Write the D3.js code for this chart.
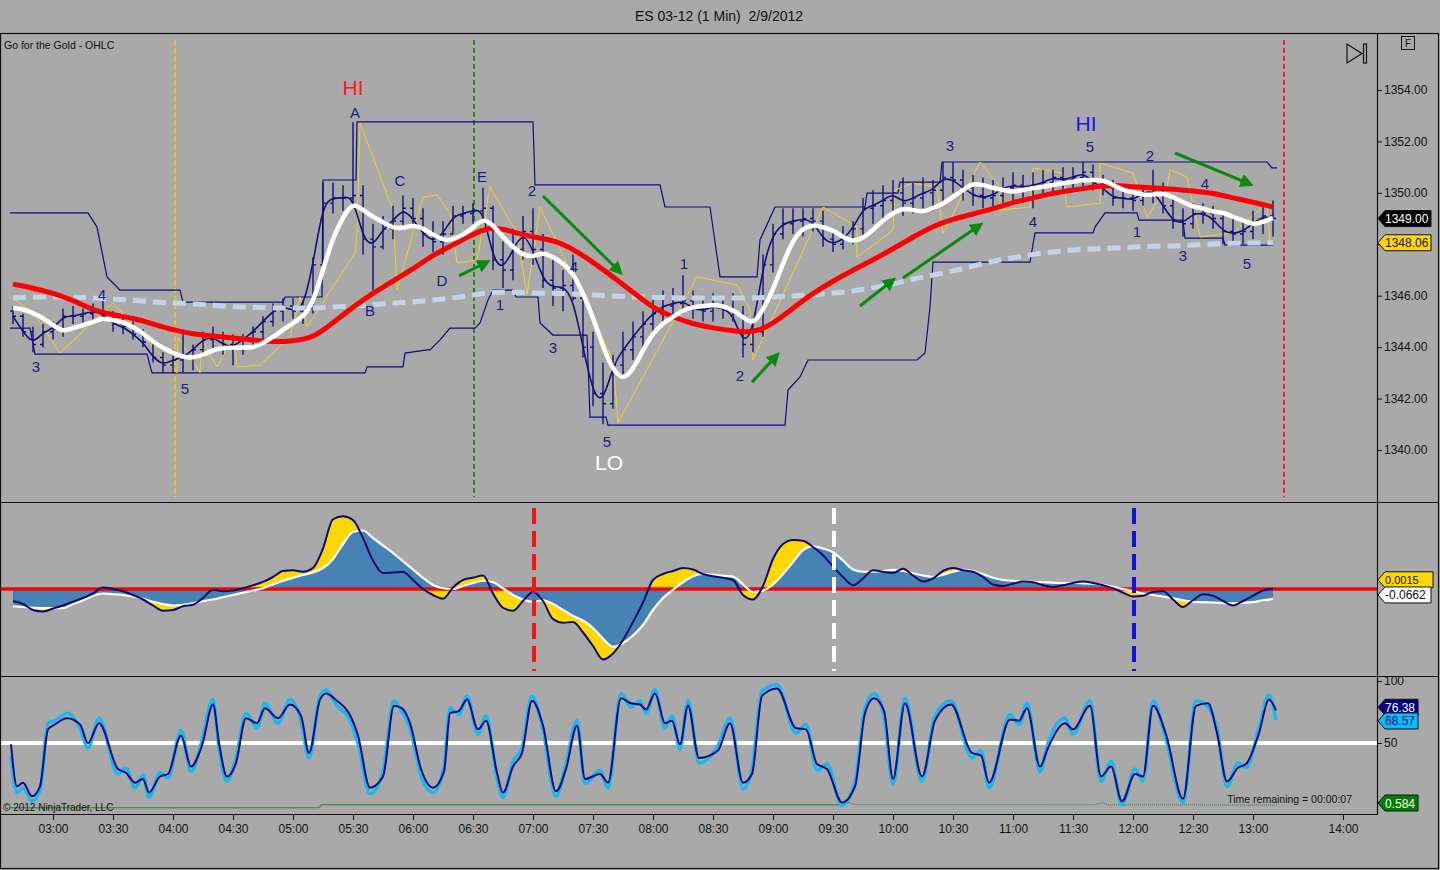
<!DOCTYPE html>
<html>
<head>
<meta charset="utf-8">
<title>ES 03-12 (1 Min) 2/9/2012</title>
<script src="https://cdn.jsdelivr.net/npm/d3@7"></script>
<style>
  body { margin: 0; background: #a9a9a9; }
  svg { display: block; }
  text { font-family: "Liberation Sans", Arial, sans-serif; }
</style>
</head>
<body>
<svg id="chart" width="1440" height="870"></svg>
<script>
// ---- data (times are minutes after midnight) ----
const barStart = 160, barStep = 5;

const highs = [
  1345.6, 1345.3, 1344.8, 1344.9, 1345.0, 1345.5, 1345.6, 1345.5, 1345.7, 1345.8,
  1345.4, 1345.1, 1345.0, 1344.7, 1344.3, 1343.8, 1343.9, 1344.5, 1344.1, 1344.6,
  1344.8, 1344.6, 1344.5, 1344.5, 1344.8, 1345.2, 1345.7, 1345.9, 1345.9, 1345.8,
  1347.5, 1350.4, 1350.4, 1350.3, 1352.75, 1350.3, 1348.8, 1349.1, 1349.5, 1349.9,
  1349.8, 1349.4, 1348.9, 1348.9, 1349.5, 1349.5, 1349.6, 1350.2, 1349.5, 1348.1,
  1348.6, 1349.1, 1349.4, 1348.4, 1347.5, 1347.0, 1347.6, 1346.1, 1344.6, 1343.4,
  1343.7, 1344.6, 1345.0, 1345.4, 1345.9, 1346.2, 1346.3, 1346.8, 1346.2, 1346.0,
  1346.1, 1346.0, 1346.1, 1345.6, 1345.0, 1347.6, 1348.8, 1349.4, 1349.4, 1349.4,
  1349.4, 1349.3, 1348.6, 1348.7, 1348.9, 1349.8, 1350.1, 1350.3, 1350.5, 1350.6,
  1350.4, 1350.6, 1350.5, 1351.2, 1351.2, 1350.9, 1350.7, 1350.6, 1350.5, 1350.6,
  1350.8, 1350.7, 1350.8, 1350.9, 1350.9, 1351.0, 1351.0, 1351.2, 1351.1, 1350.7,
  1350.5, 1350.2, 1350.1, 1350.3, 1350.9, 1350.4, 1349.8, 1349.4, 1349.6, 1349.6,
  1349.5, 1349.3, 1349.0, 1349.0, 1349.3, 1349.6, 1349.7
];
const lows = [
  1344.9, 1344.4, 1343.8, 1344.0, 1344.3, 1344.4, 1344.9, 1344.9, 1345.0, 1345.0,
  1344.6, 1344.5, 1344.3, 1344.0, 1343.4, 1343.0, 1343.0, 1343.0, 1343.1, 1343.6,
  1343.9, 1343.7, 1343.3, 1343.7, 1344.0, 1344.3, 1344.8, 1345.0, 1345.1, 1344.9,
  1345.3, 1347.0, 1349.2, 1349.3, 1349.4, 1347.6, 1346.2, 1347.8, 1348.2, 1348.6,
  1348.7, 1347.9, 1347.7, 1347.6, 1348.4, 1348.8, 1348.8, 1348.9, 1347.0, 1346.3,
  1346.6, 1347.4, 1347.2, 1346.3, 1345.6, 1345.4, 1345.8, 1343.6, 1341.7, 1341.0,
  1341.6, 1342.9, 1343.5, 1344.0, 1344.6, 1344.9, 1345.1, 1345.3, 1345.1, 1345.0,
  1345.0, 1345.1, 1345.0, 1343.6, 1343.8, 1344.4, 1346.9, 1348.2, 1348.4, 1348.3,
  1348.5, 1347.9, 1347.7, 1347.8, 1348.0, 1348.3, 1348.8, 1348.9, 1349.2, 1349.1,
  1349.2, 1349.4, 1349.3, 1349.6, 1350.0, 1349.7, 1349.5, 1349.4, 1349.3, 1349.6,
  1349.7, 1349.8, 1349.4, 1349.9, 1350.0, 1350.0, 1350.1, 1350.2, 1350.1, 1349.9,
  1349.5, 1349.4, 1349.3, 1349.5, 1349.6, 1349.2, 1348.6, 1348.3, 1348.6, 1348.8,
  1348.6, 1348.0, 1348.0, 1348.0, 1348.2, 1348.4, 1348.3
];
const closes = [
  1345.2, 1344.6, 1344.1, 1344.6, 1344.7, 1345.2, 1345.2, 1345.3, 1345.4, 1345.3,
  1344.9, 1344.8, 1344.5, 1344.2, 1343.6, 1343.3, 1343.5, 1343.6, 1343.9, 1344.3,
  1344.4, 1344.1, 1344.0, 1344.3, 1344.6, 1345.0, 1345.4, 1345.6, 1345.4, 1345.5,
  1347.2, 1349.6, 1349.8, 1349.8, 1349.9, 1348.2, 1347.9, 1348.6, 1348.9, 1349.4,
  1349.0, 1348.4, 1348.1, 1348.4, 1349.1, 1349.2, 1349.3, 1349.4, 1347.4, 1347.0,
  1347.8, 1348.5, 1347.8, 1346.6, 1346.3, 1346.4, 1345.9, 1344.0, 1342.2, 1341.8,
  1343.3, 1343.9, 1344.4, 1344.9, 1345.3, 1345.6, 1345.7, 1345.8, 1345.5, 1345.4,
  1345.6, 1345.5, 1345.3, 1344.1, 1344.6, 1347.2, 1348.4, 1348.8, 1348.9, 1349.0,
  1348.9, 1348.2, 1348.0, 1348.2, 1348.6, 1349.4, 1349.5, 1349.7, 1350.0, 1349.6,
  1349.8, 1350.0, 1350.1, 1350.6, 1350.5, 1350.2, 1349.9, 1349.8, 1349.9, 1350.2,
  1350.3, 1350.2, 1350.3, 1350.4, 1350.6, 1350.5, 1350.6, 1350.8, 1350.4, 1350.2,
  1349.8, 1349.8, 1349.7, 1350.0, 1350.1, 1349.5, 1348.9, 1348.8, 1349.2, 1349.2,
  1349.0, 1348.5, 1348.4, 1348.5, 1348.8, 1349.1, 1349.0
];
const firstOpen = 1345.4;

// fast moving average (white), same 5 minute grid
const whiteMA = [
  1345.52, 1345.48, 1345.33, 1345.13, 1344.86, 1344.59, 1344.74, 1344.86, 1344.98, 1345.13,
  1345.05, 1344.98, 1344.78, 1344.55, 1344.20, 1343.97, 1343.77, 1343.62, 1343.58, 1343.69,
  1343.89, 1343.97, 1343.97, 1344.00, 1343.97, 1344.16, 1344.39, 1344.67, 1344.94, 1345.17,
  1345.72, 1347.00, 1348.28, 1349.06, 1349.64, 1349.33, 1349.06, 1348.87, 1348.63, 1348.63,
  1348.75, 1348.63, 1348.36, 1348.17, 1348.17, 1348.36, 1348.63, 1349.02, 1348.75, 1348.28,
  1347.89, 1347.58, 1347.50, 1347.70, 1347.50, 1347.27, 1346.88, 1346.10, 1345.17, 1344.00,
  1343.11, 1342.72, 1343.11, 1343.89, 1344.55, 1344.94, 1345.17, 1345.44, 1345.56, 1345.60,
  1345.64, 1345.60, 1345.44, 1345.17, 1344.86, 1345.44, 1346.22, 1347.27, 1348.17, 1348.63,
  1348.75, 1348.67, 1348.55, 1348.28, 1348.09, 1348.24, 1348.55, 1348.94, 1349.22, 1349.41,
  1349.33, 1349.25, 1349.41, 1349.57, 1349.84, 1350.11, 1350.38, 1350.31, 1350.19, 1350.11,
  1350.03, 1350.11, 1350.19, 1350.23, 1350.31, 1350.38, 1350.42, 1350.50, 1350.50, 1350.50,
  1350.31, 1350.11, 1350.03, 1349.92, 1349.92, 1349.99, 1349.84, 1349.64, 1349.45, 1349.41,
  1349.25, 1349.25, 1349.06, 1348.94, 1348.75, 1348.87, 1349.02
];

// slower averages on a 10 minute grid
const maStart = 160, maStep = 10;
const redMA = [
  1346.45, 1346.30, 1346.10, 1345.83, 1345.44, 1345.25, 1345.13, 1344.90, 1344.67, 1344.51,
  1344.43, 1344.35, 1344.28, 1344.20, 1344.24, 1344.35, 1344.94, 1345.56, 1346.10, 1346.57,
  1347.04, 1347.58, 1347.97, 1348.40, 1348.71, 1348.48, 1348.28, 1348.17, 1347.82, 1347.31,
  1346.73, 1346.14, 1345.52, 1345.17, 1344.90, 1344.74, 1344.63, 1344.55, 1344.90, 1345.52,
  1346.10, 1346.57, 1347.00, 1347.39, 1347.82, 1348.28, 1348.71, 1348.98, 1349.18, 1349.37,
  1349.64, 1349.80, 1349.99, 1350.11, 1350.23, 1350.31, 1350.23, 1350.19, 1350.15, 1350.07,
  1349.99, 1349.80, 1349.64, 1349.45
];
const blueMA = [
  1345.91, 1345.95, 1345.95, 1345.95, 1345.91, 1345.87, 1345.83, 1345.75, 1345.72, 1345.68,
  1345.64, 1345.56, 1345.56, 1345.52, 1345.52, 1345.52, 1345.56, 1345.60, 1345.64, 1345.72,
  1345.75, 1345.83, 1345.91, 1346.03, 1346.14, 1346.14, 1346.10, 1346.10, 1346.07, 1346.03,
  1345.99, 1345.95, 1345.95, 1345.91, 1345.91, 1345.91, 1345.91, 1345.91, 1345.95, 1345.99,
  1346.03, 1346.10, 1346.18, 1346.30, 1346.45, 1346.65, 1346.80, 1346.96, 1347.15, 1347.35,
  1347.47, 1347.62, 1347.70, 1347.78, 1347.82, 1347.85, 1347.89, 1347.93, 1347.93, 1347.97,
  1348.01, 1348.04, 1348.05, 1348.06
];

// channel (step lines) break points
const upperT = [158.5, 197.5, 202, 207, 212, 213.5, 243.5, 245, 295, 296, 314.5, 315, 331.5, 332, 420, 421,
  483.5, 486, 508.5, 513.5, 532, 533.5, 541, 586, 587, 602.5, 603.5, 623.5, 624.5, 787, 789.5, 792];
const upperP = [1349.22, 1349.22, 1348.67, 1346.73, 1346.34, 1346.22, 1346.22, 1345.75, 1345.75, 1345.95,
  1345.95, 1350.50, 1350.50, 1352.76, 1352.76, 1350.31, 1350.31, 1349.45, 1349.45, 1346.73, 1346.73,
  1348.17, 1349.45, 1349.45, 1349.99, 1349.99, 1350.42, 1350.42, 1351.20, 1351.20, 1350.97, 1350.97];
const lowerT = [158.5, 168.5, 171, 227, 229.5, 336, 337, 355, 356, 367, 368.5, 373.5, 378.5, 391, 393.5,
  397.5, 400, 410, 411.5, 422.5, 423.5, 430, 447, 448.5, 456.5, 457.5, 546, 547.5, 553.5, 557.5, 612, 616,
  618.5, 620, 668.5, 671, 700, 701, 706, 722, 723, 745, 746, 765, 766, 790];
const lowerP = [1344.74, 1344.74, 1343.73, 1343.73, 1343.00, 1343.00, 1343.23, 1343.23, 1343.77, 1343.89,
  1343.89, 1344.28, 1344.74, 1344.74, 1344.94, 1345.83, 1346.22, 1346.22, 1345.95, 1345.95, 1344.94,
  1344.47, 1344.47, 1341.28, 1341.28, 1340.97, 1340.97, 1342.33, 1342.84, 1343.50, 1343.50, 1343.77,
  1345.56, 1347.31, 1347.31, 1348.44, 1348.44, 1348.67, 1349.22, 1349.22, 1348.94, 1348.94, 1348.24,
  1348.24, 1347.97, 1347.97];

// thin yellow swing line
const swingT = [158.5, 170, 183.5, 210, 242, 242.5, 253.5, 254.5, 262, 270, 272, 283.5, 298.5, 303.5, 307,
  331, 332, 333.5, 350, 352, 365, 372, 378.5, 382, 392, 398.5, 412, 417, 423.5, 460, 462.5, 502, 522,
  528.5, 530, 565, 582, 582, 600, 601, 610, 622, 625, 643.5, 653.5, 653.5, 668.5, 670, 685, 687, 703.5,
  703.5, 720, 727, 737, 738.5, 747, 753.5, 770, 787, 788.5];
const swingP = [1345.95, 1345.37, 1343.77, 1345.72, 1343.00, 1344.39, 1343.00, 1344.28, 1343.23, 1344.39,
  1343.23, 1343.30, 1344.39, 1345.95, 1344.78, 1347.66, 1348.44, 1352.72, 1349.33, 1346.22, 1349.84,
  1349.92, 1349.22, 1347.27, 1347.39, 1350.23, 1348.44, 1346.03, 1349.45, 1343.50, 1341.05, 1346.73,
  1346.42, 1345.44, 1343.50, 1349.45, 1348.67, 1347.50, 1348.55, 1350.11, 1350.38, 1350.23, 1348.44,
  1351.20, 1350.23, 1349.33, 1349.45, 1350.97, 1350.77, 1349.45, 1349.60, 1351.16, 1350.77, 1349.06,
  1350.23, 1350.89, 1350.62, 1348.28, 1348.44, 1349.60, 1348.05];

// MACD style oscillator, 5 minute grid
const macd = [
  -0.08, -0.10, -0.14, -0.15, -0.13, -0.11, -0.085, -0.06, -0.03, 0.01,
  0.0, -0.015, -0.04, -0.07, -0.11, -0.145, -0.14, -0.115, -0.105, -0.06,
  -0.005, -0.015, -0.01, 0.005, 0.025, 0.047, 0.08, 0.12, 0.125, 0.115,
  0.14, 0.27, 0.465, 0.485, 0.46, 0.34, 0.19, 0.107, 0.11, 0.113,
  0.06, 0.0, -0.04, -0.065, 0.01, 0.06, 0.075, 0.09, -0.03, -0.125,
  -0.145, -0.08, -0.02, -0.08, -0.2, -0.225, -0.22, -0.29, -0.38, -0.47,
  -0.43, -0.34, -0.22, -0.09, 0.06, 0.1, 0.12, 0.14, 0.13, 0.1,
  0.085, 0.075, 0.06, -0.04, -0.07, 0.02, 0.2, 0.3, 0.327, 0.322,
  0.28, 0.225, 0.15, 0.08, 0.025, 0.07, 0.125, 0.115, 0.107, 0.135,
  0.09, 0.05, 0.07, 0.12, 0.14, 0.125, 0.115, 0.08, 0.03, 0.02,
  0.035, 0.05, 0.045, 0.025, 0.013, 0.025, 0.04, 0.05, 0.04, 0.025,
  0.005, -0.025, -0.05, -0.045, -0.02, -0.015, -0.07, -0.12, -0.075, -0.035,
  -0.045, -0.08, -0.11, -0.08, -0.045, -0.01, 0.0015
];
const signal = [
  -0.115, -0.12, -0.125, -0.128, -0.128, -0.127, -0.1, -0.075, -0.045, -0.03,
  -0.035, -0.04, -0.05, -0.065, -0.085, -0.1, -0.11, -0.105, -0.095, -0.08,
  -0.07, -0.055, -0.04, -0.025, -0.01, 0.005, 0.03, 0.055, 0.075, 0.093,
  0.11, 0.14, 0.2, 0.3, 0.38, 0.39, 0.34, 0.29, 0.24, 0.185,
  0.13, 0.075, 0.027, 0.005, 0.0, 0.02, 0.04, 0.055, 0.045, 0.005,
  -0.04, -0.07, -0.085, -0.075, -0.1, -0.14, -0.18, -0.21, -0.26, -0.33,
  -0.385, -0.36, -0.31, -0.24, -0.14, -0.06, -0.005, 0.045, 0.085, 0.1,
  0.095, 0.088, 0.082, 0.03, -0.02, -0.01, 0.03, 0.1, 0.18, 0.26,
  0.285, 0.27, 0.245, 0.19, 0.13, 0.115, 0.115, 0.12, 0.127, 0.12,
  0.105, 0.09, 0.08, 0.095, 0.115, 0.127, 0.12, 0.1, 0.075, 0.06,
  0.055, 0.05, 0.048, 0.045, 0.042, 0.04, 0.04, 0.038, 0.035, 0.027,
  0.015, 0.0, -0.015, -0.03, -0.04, -0.05, -0.062, -0.075, -0.085, -0.088,
  -0.09, -0.093, -0.095, -0.093, -0.088, -0.075, -0.0662
];

// stochastic
const stochT = [159, 162, 165, 169.5, 173.5, 177.5, 181, 187, 193.5, 197.5, 203, 212.5, 216.5, 221, 225, 228,
  233.5, 237.5, 244, 249, 254.5, 260, 263, 267, 271.5, 276.5, 282, 286, 292.5, 298.5, 304, 308, 313.5,
  316.5, 322, 328, 332.5, 338.5, 345, 350.5, 354.5, 358.5, 364, 370, 375.5, 378.5, 383, 387, 392.5, 396.5,
  402, 405, 410, 414.5, 419.5, 425, 431.5, 436.5, 442, 446, 453.5, 457.5, 464, 469, 473.5, 476.5, 481,
  486, 489.5, 493.5, 497.5, 503, 512.5, 518.5, 525, 529.5, 534.5, 542, 551.5, 556.5, 562, 567, 574.5,
  581, 586, 590.5, 595.5, 600, 606, 614.5, 621, 629, 639.5, 644, 648, 658.5, 663, 667, 673.5, 677.5,
  686, 690, 698.5, 704, 709, 714.5, 721, 725, 730, 736.5, 745, 751.5, 757.5, 762, 767, 772.5, 776.5,
  783, 788, 791.5];
const stochD = [49, 15, 18, 7, 15, 61, 65, 70, 65, 50, 66, 29, 26, 18, 21, 10, 23, 25, 56, 31, 48, 81, 50,
  23, 34, 70, 66, 78, 70, 81, 72, 42, 85, 90, 84, 74, 56, 14, 23, 80, 78, 66, 29, 14, 27, 74, 76, 85, 61,
  68, 26, 10, 31, 42, 84, 64, 11, 29, 64, 21, 25, 18, 86, 82, 81, 77, 90, 66, 68, 49, 80, 38, 44, 66, 18,
  25, 88, 94, 62, 61, 33, 29, 2, 15, 74, 86, 76, 21, 82, 23, 68, 81, 42, 40, 18, 69, 68, 78, 31, 46, 66,
  61, 80, 23, 31, 3, 25, 23, 80, 57, 5, 80, 82, 58, 19, 30, 33, 58, 85, 76.38];
const stochK = [40, 10, 14, 3, 12, 66, 68, 74, 62, 46, 70, 25, 30, 14, 24, 6, 26, 22, 60, 27, 52, 85, 46,
  19, 38, 74, 62, 82, 66, 85, 68, 38, 88, 93, 80, 70, 50, 9, 27, 84, 75, 62, 24, 10, 31, 78, 73, 88, 57,
  72, 22, 6, 35, 46, 88, 60, 7, 33, 68, 17, 28, 14, 90, 79, 84, 74, 93, 62, 72, 45, 84, 34, 48, 70, 13,
  29, 92, 97, 58, 65, 28, 33, 0, 19, 78, 90, 72, 17, 86, 19, 72, 84, 38, 44, 14, 73, 65, 82, 27, 50, 70,
  57, 84, 19, 35, 0, 29, 19, 84, 53, 2, 84, 79, 62, 15, 34, 30, 62, 89, 68.57];

// small green line at the foot of the stochastic panel
const greenT = [158, 313, 314, 575, 578, 581, 590, 700, 705, 708, 792];
const greenV = [0.35, 0.35, 0.6, 0.6, 0.8, 0.6, 0.62, 0.6, 0.75, 0.6, 0.584];

// wave labels
const waveText = ["HI", "A", "C", "B", "D", "E", "2", "1", "3", "4", "5", "3", "4", "5", "LO",
  "1", "2", "3", "4", "HI", "5", "1", "2", "3", "4", "5"];
const waveT = [330, 331, 353.5, 338.5, 374.5, 394.5, 419.5, 403.5, 171.5, 204.5, 246, 430, 440.5, 457, 458,
  495.5, 523.5, 628.5, 670, 696.5, 698.5, 722, 728.5, 745, 756, 777];
const waveP = [1354.08, 1353.14, 1350.5, 1345.44, 1346.61, 1350.62, 1350.11, 1345.64, 1343.26, 1346.03,
  1342.41, 1344.0, 1347.12, 1340.35, 1339.53, 1347.27, 1342.88, 1351.86, 1348.87, 1352.68, 1351.82,
  1348.48, 1351.47, 1347.58, 1350.38, 1347.27];
const waveColor = ["#ff1a1a", "#1a1a80", "#1a1a80", "#1a1a80", "#1a1a80", "#1a1a80", "#1a1a80", "#1a1a80",
  "#1a1a80", "#1a1a80", "#1a1a80", "#1a1a80", "#1a1a80", "#1a1a80", "#ffffff", "#1a1a80", "#1a1a80",
  "#1a1a80", "#1a1a80", "#1a1ae6", "#1a1a80", "#1a1a80", "#1a1a80", "#1a1a80", "#1a1a80", "#1a1a80"];

// green arrows: [t1, p1, t2, p2]
const arrows = [
  [383, 1346.77, 397, 1347.31],
  [425, 1349.88, 463.5, 1346.92],
  [529.5, 1342.64, 542, 1343.69],
  [583.5, 1345.60, 600, 1346.61],
  [605, 1346.69, 643.5, 1348.75],
  [741, 1351.55, 778.5, 1350.34]
];

// dashed markers
const priceMarkT = [241, 390.5, 795.5];
const priceMarkColor = ["#f0c020", "#1a8a1a", "#ee2020"];
const oscMarkT = [420.5, 570.5, 720.5];
const oscMarkColor = ["#ff1010", "#ffffff", "#1010e0"];

// axes
const priceTicks = [1340, 1342, 1344, 1346, 1348, 1350, 1352, 1354];
const timeTicks = [180, 210, 240, 270, 300, 330, 360, 390, 420, 450, 480, 510, 540, 570, 600, 630, 660,
  690, 720, 750, 780, 840];
const timeLabels = ["03:00", "03:30", "04:00", "04:30", "05:00", "05:30", "06:00", "06:30", "07:00", "07:30",
  "08:00", "08:30", "09:00", "09:30", "10:00", "10:30", "11:00", "11:30", "12:00", "12:30", "13:00", "14:00"];
const stochTicks = [50, 100];

// ---- scales ----
const svg = d3.select("#chart");
const AX = 1377;
const x = d3.scaleLinear().domain([180, 800, 840]).range([53, 1293, 1343]);
const yP = d3.scaleLinear().domain([1340, 1354]).range([450, 90]);
const yM = d3.scaleLinear().domain([-0.5, 0.5]).range([664, 514]);
const yS = d3.scaleLinear().domain([0, 100]).range([805, 681]);
const yG = d3.scaleLinear().domain([0, 1]).range([812, 800]);

const barT = highs.map((d, i) => barStart + i * barStep);
const maT = redMA.map((d, i) => maStart + i * maStep);

const lineOf = (ts, vs, ys, curve) =>
  d3.line().x((d, i) => x(ts[i])).y(d => ys(d)).curve(curve || d3.curveLinear)(vs);

// background + frame
svg.append("rect").attr("width", 1440).attr("height", 870).attr("fill", "#a9a9a9");

const defs = svg.append("defs");
[["clipP", 34, 502], ["clipM", 503, 676], ["clipS", 677, 814]].forEach(c => {
  defs.append("clipPath").attr("id", c[0]).append("rect")
    .attr("x", 1).attr("y", c[1]).attr("width", AX - 1).attr("height", c[2] - c[1]);
});
defs.append("marker").attr("id", "arrowhead").attr("viewBox", "0 0 10 10")
  .attr("refX", 7).attr("refY", 5).attr("markerWidth", 4.5).attr("markerHeight", 4.5)
  .attr("orient", "auto").append("path").attr("d", "M0,0L10,5L0,10Z").attr("fill", "#0a8a0a");

svg.append("text").attr("x", 719).attr("y", 21).attr("text-anchor", "middle")
  .attr("font-size", 14).attr("fill", "#111").style("white-space", "pre")
  .text("ES 03-12 (1 Min)  2/9/2012");

// ---- price panel ----
const gp = svg.append("g").attr("clip-path", "url(#clipP)");

gp.selectAll(".pmark").data(priceMarkT).enter().append("line")
  .attr("x1", d => x(d)).attr("x2", d => x(d)).attr("y1", 40).attr("y2", 497)
  .attr("stroke", (d, i) => priceMarkColor[i]).attr("stroke-width", 2).attr("stroke-dasharray", "5,3");

gp.append("path").attr("d", lineOf(upperT, upperP, yP)).attr("fill", "none")
  .attr("stroke", "#0c0c80").attr("stroke-width", 1.2);
gp.append("path").attr("d", lineOf(lowerT, lowerP, yP)).attr("fill", "none")
  .attr("stroke", "#0c0c80").attr("stroke-width", 1.2);

gp.append("path").attr("d", lineOf(swingT, swingP, yP)).attr("fill", "none")
  .attr("stroke", "#f2cf2a").attr("stroke-width", 1);

gp.selectAll(".bar").data(highs).enter().append("path")
  .attr("d", (h, i) => {
    const xx = x(barT[i]);
    const o = i ? closes[i - 1] : firstOpen;
    return `M${xx},${yP(h)}V${yP(lows[i])}M${xx - 3},${yP(o)}H${xx}M${xx},${yP(closes[i])}H${xx + 3}`;
  })
  .attr("fill", "none").attr("stroke", "#10107e").attr("stroke-width", 1.4);

gp.append("path").attr("d", lineOf(barT, closes, yP, d3.curveBasis)).attr("fill", "none")
  .attr("stroke", "#10107e").attr("stroke-width", 1.6);

gp.append("path").attr("d", lineOf(maT, blueMA, yP, d3.curveBasis)).attr("fill", "none")
  .attr("stroke", "#c3d4e8").attr("stroke-width", 5).attr("stroke-dasharray", "13,7");
gp.append("path").attr("d", lineOf(maT, redMA, yP, d3.curveBasis)).attr("fill", "none")
  .attr("stroke", "#ff0000").attr("stroke-width", 5);
gp.append("path").attr("d", lineOf(barT, whiteMA, yP, d3.curveBasis)).attr("fill", "none")
  .attr("stroke", "#ffffff").attr("stroke-width", 4.5);

gp.selectAll(".arrow").data(arrows).enter().append("line")
  .attr("x1", d => x(d[0])).attr("y1", d => yP(d[1]))
  .attr("x2", d => x(d[2])).attr("y2", d => yP(d[3]))
  .attr("stroke", "#0a8a0a").attr("stroke-width", 3).attr("marker-end", "url(#arrowhead)");

gp.selectAll(".wave").data(waveText).enter().append("text")
  .attr("x", (d, i) => x(waveT[i])).attr("y", (d, i) => yP(waveP[i]))
  .attr("text-anchor", "middle").attr("dominant-baseline", "central")
  .attr("font-size", d => (d === "HI" || d === "LO") ? 21 : 15)
  .attr("fill", (d, i) => waveColor[i]).text(d => d);

svg.append("text").attr("x", 4).attr("y", 49).attr("font-size", 10.5).attr("fill", "#111")
  .text("Go for the Gold - OHLC");

// ---- oscillator panel ----
const gm = svg.append("g").attr("clip-path", "url(#clipM)");
gm.append("path").attr("fill", "#ffd700")
  .attr("d", d3.area().x((d, i) => x(barT[i])).y0((d, i) => yM(signal[i])).y1(d => yM(d))
    .curve(d3.curveMonotoneX)(macd));
gm.append("path").attr("fill", "#4682b4")
  .attr("d", d3.area().x((d, i) => x(barT[i])).y0(yM(0)).y1(d => yM(d))
    .curve(d3.curveMonotoneX)(signal));
gm.append("line").attr("x1", 1).attr("x2", AX).attr("y1", yM(0)).attr("y2", yM(0))
  .attr("stroke", "#ff0000").attr("stroke-width", 3.5);
gm.append("path").attr("d", lineOf(barT, signal, yM, d3.curveMonotoneX)).attr("fill", "none")
  .attr("stroke", "#ffffff").attr("stroke-width", 2.2);
gm.append("path").attr("d", lineOf(barT, macd, yM, d3.curveMonotoneX)).attr("fill", "none")
  .attr("stroke", "#0c0c70").attr("stroke-width", 2);
gm.selectAll(".omark").data(oscMarkT).enter().append("line")
  .attr("x1", d => x(d)).attr("x2", d => x(d)).attr("y1", 508).attr("y2", 671)
  .attr("stroke", (d, i) => oscMarkColor[i]).attr("stroke-width", 4).attr("stroke-dasharray", "16,7");

// ---- stochastic panel ----
const gs = svg.append("g").attr("clip-path", "url(#clipS)");
gs.append("line").attr("x1", 1).attr("x2", AX).attr("y1", yS(50)).attr("y2", yS(50))
  .attr("stroke", "#ffffff").attr("stroke-width", 4);
gs.append("path").attr("d", lineOf(greenT.slice(0, 5), greenV.slice(0, 5), yG)).attr("fill", "none")
  .attr("stroke", "#2e7d32").attr("stroke-width", 1);
gs.append("path").attr("d", lineOf(greenT.slice(4), greenV.slice(4), yG)).attr("fill", "none")
  .attr("stroke", "#2e7d32").attr("stroke-width", 1).attr("stroke-dasharray", "1,1");
gs.append("path").attr("d", lineOf(stochT, stochK, yS, d3.curveMonotoneX)).attr("fill", "none")
  .attr("stroke", "#1ab8f0").attr("stroke-width", 3.5);
gs.append("path").attr("d", lineOf(stochT, stochD, yS, d3.curveMonotoneX)).attr("fill", "none")
  .attr("stroke", "#0c0c80").attr("stroke-width", 2);

svg.append("text").attr("x", 3).attr("y", 811).attr("font-size", 10).attr("fill", "#111")
  .text("\u00a9 2012 NinjaTrader, LLC");
svg.append("text").attr("x", 1352).attr("y", 803).attr("text-anchor", "end").attr("font-size", 10.5)
  .attr("fill", "#111").text("Time remaining = 00:00:07");

// ---- frames ----
const fr = svg.append("g").attr("stroke", "#111").attr("fill", "none").attr("stroke-width", 1.2);
fr.append("rect").attr("x", 0.5).attr("y", 33.5).attr("width", 1438).attr("height", 835);
fr.append("line").attr("x1", 0).attr("x2", 1439).attr("y1", 502.5).attr("y2", 502.5);
fr.append("line").attr("x1", 0).attr("x2", 1439).attr("y1", 676.5).attr("y2", 676.5);
fr.append("line").attr("x1", 0).attr("x2", AX).attr("y1", 814.5).attr("y2", 814.5);
fr.append("line").attr("x1", AX + 0.5).attr("x2", AX + 0.5).attr("y1", 33).attr("y2", 815);

// ---- axes ----
const styleAxis = g => {
  g.select(".domain").remove();
  g.selectAll("line").attr("stroke", "#111");
  g.selectAll("text").attr("font-size", 12).attr("fill", "#111")
    .attr("font-family", "'Liberation Sans', Arial, sans-serif");
};
svg.append("g").attr("transform", `translate(${AX},0)`)
  .call(d3.axisRight(yP).tickValues(priceTicks).tickFormat(d => d.toFixed(2)).tickSize(5).tickPadding(2))
  .call(styleAxis);
svg.append("g").attr("transform", `translate(${AX},0)`)
  .call(d3.axisRight(yS).tickValues(stochTicks).tickFormat(d => d).tickSize(5).tickPadding(2))
  .call(styleAxis);
svg.append("g").attr("transform", "translate(0,814)")
  .call(d3.axisBottom(x).tickValues(timeTicks).tickFormat((d, i) => timeLabels[i]).tickSize(6).tickPadding(4))
  .call(styleAxis);

// ---- value tags on the right axis ----
function tag(y, text, fill, color, w, size) {
  const g = svg.append("g");
  g.append("path")
    .attr("d", `M${AX + 1},${y}L${AX + 8},${y - 8}H${AX + 1 + w}V${y + 8}H${AX + 8}Z`)
    .attr("fill", fill).attr("stroke", "#111").attr("stroke-width", 1);
  g.append("text").attr("x", AX + 8).attr("y", y + 4.5).attr("font-size", size || 12)
    .attr("fill", color).text(text);
}
tag(yP(closes[closes.length - 1]), closes[closes.length - 1].toFixed(2), "#000000", "#ffffff", 53);
tag(yP(blueMA[blueMA.length - 1]), blueMA[blueMA.length - 1].toFixed(2), "#ffd700", "#111", 53);
tag(yM(macd[macd.length - 1]) - 9, macd[macd.length - 1].toFixed(4), "#ffd700", "#111", 55, 11);
tag(yM(signal[signal.length - 1]) - 4, signal[signal.length - 1].toFixed(4), "#ffffff", "#111", 53);
tag(yS(stochD[stochD.length - 1]) - 3, stochD[stochD.length - 1].toFixed(2), "#000080", "#ffffff", 40);
tag(yS(stochK[stochK.length - 1]) + 1, stochK[stochK.length - 1].toFixed(2), "#00bfff", "#0c0c60", 40);
tag(803, greenV[greenV.length - 1].toFixed(3), "#008000", "#ffffff", 40);

// ---- small buttons ----
svg.append("rect").attr("x", 1401.5).attr("y", 36.5).attr("width", 13).attr("height", 13)
  .attr("fill", "none").attr("stroke", "#111");
svg.append("text").attr("x", 1408).attr("y", 47).attr("text-anchor", "middle").attr("font-size", 10)
  .attr("fill", "#111").text("F");
svg.append("path").attr("d", "M1347,44L1362,53.5L1347,63Z").attr("fill", "none").attr("stroke", "#111")
  .attr("stroke-width", 1.2);
svg.append("rect").attr("x", 1363.5).attr("y", 44).attr("width", 3).attr("height", 19)
  .attr("fill", "none").attr("stroke", "#111").attr("stroke-width", 1.2);
</script>
</body>
</html>
